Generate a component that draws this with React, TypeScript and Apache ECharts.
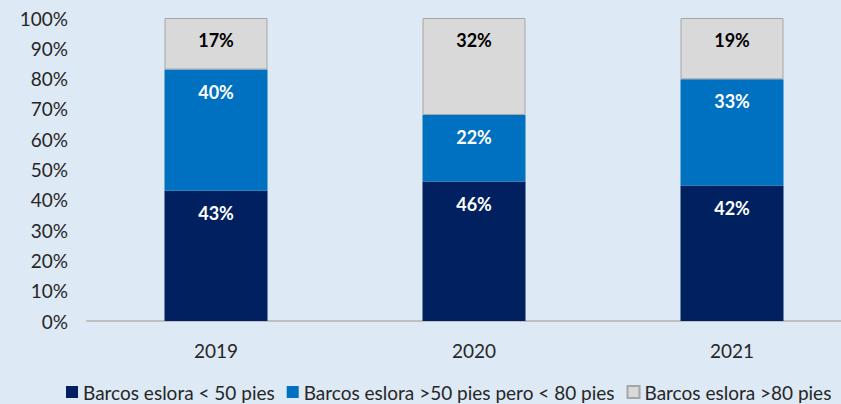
import React, { useEffect, useRef } from "react";
import * as echarts from "echarts";

const categories = ["2019", "2020", "2021"];
const seriesNames = [
  "Barcos eslora < 50 pies",
  "Barcos eslora >50 pies pero < 80 pies",
  "Barcos eslora >80 pies",
];
const small = [43, 46, 42];
const medium = [40, 22, 33];
const large = [17, 32, 19];

const colors = ["#002060", "#0070c0", "#d9d9d9"];
const labelColors = ["#ffffff", "#ffffff", "#000000"];

export default function App() {
  const ref = useRef<HTMLDivElement>(null);
  useEffect(() => {
    document.body.style.margin = "0";
    document.body.style.overflow = "hidden";
    const chart = echarts.init(ref.current!, undefined, { renderer: "svg" });
    const raw = [small, medium, large];
    const totals = categories.map((_, i) => small[i] + medium[i] + large[i]);
    const font = "Lato, 'Open Sans', sans-serif";
    chart.setOption({
      animation: false,
      backgroundColor: "#dde9f5",
      textStyle: { fontFamily: font },
      grid: { left: 87, top: 18, width: 774, height: 303 },
      legend: {
        left: 66,
        top: 382,
        padding: 0,
        itemWidth: 12,
        itemHeight: 12,
        itemGap: 12,
        icon: "rect",
        textStyle: { fontSize: 19, lineHeight: 20, color: "#262626", fontFamily: font },
        data: seriesNames,
      },
      xAxis: {
        type: "category",
        data: categories,
        axisLine: { show: true, lineStyle: { color: "#bfbfbf", width: 2 } },
        axisTick: { show: false },
        axisLabel: { fontSize: 19, color: "#262626", margin: 20, fontFamily: font },
      },
      yAxis: {
        type: "value",
        min: 0,
        max: 100,
        interval: 10,
        splitLine: { show: false },
        axisLine: { show: false },
        axisTick: { show: false },
        axisLabel: { formatter: "{value}%", fontSize: 19, color: "#262626", margin: 19, fontFamily: font },
      },
      series: raw.map((arr, s) => ({
        name: seriesNames[s],
        type: "bar",
        stack: "total",
        barWidth: 103,
        data: arr.map((v, i) => (v / totals[i]) * 100),
        itemStyle: {
          color: colors[s],
          borderColor: s === 2 ? "#a6a6a6" : colors[s],
          borderWidth: s === 2 ? 1 : 0,
        },
        label: {
          show: true,
          position: "insideTop",
          distance: 13,
          fontSize: 18,
          fontWeight: "bold",
          color: labelColors[s],
          fontFamily: font,
          formatter: (p: any) => `${arr[p.dataIndex]}%`,
        },
      })),
    });
    return () => chart.dispose();
  }, []);
  return <div ref={ref} style={{ width: 880, height: 404 }} />;
}
